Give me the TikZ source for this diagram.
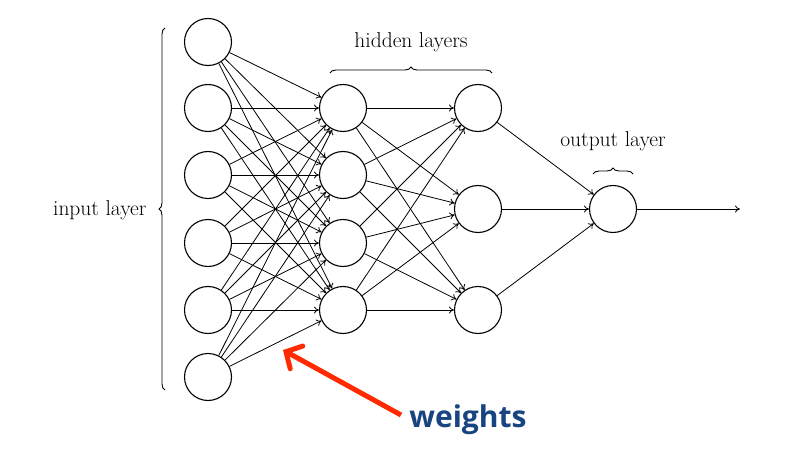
\documentclass[tikz,border=0pt]{standalone}
\usepackage{fontspec}
\newfontfamily\labelsans{Open Sans}
\usetikzlibrary{arrows.meta,decorations.pathreplacing}
\definecolor{pointerred}{RGB}{255,42,0}
\definecolor{weightblue}{RGB}{24,68,128}
\begin{document}
\begin{tikzpicture}[x=1pt,y=-1pt,
  neuron/.style={circle,draw,line width=1.1pt,minimum size=47pt,inner sep=0pt},
  synapse/.style={-{To[length=5pt,width=7pt]},line width=0.8pt},
  layerbrace/.style={decorate,decoration={brace,amplitude=6pt},line width=0.9pt},
  layertext/.style={font=\fontsize{21.5}{24}\selectfont}]
\useasboundingbox (0,0) rectangle (800,457);

% input layer
\foreach \i/\y in {1/42,2/108,3/175,4/243,5/310,6/377}
  \node[neuron] (I\i) at (208,\y) {};
% first hidden layer
\foreach \i/\y in {1/108,2/175,3/243,4/310}
  \node[neuron] (H\i) at (343,\y) {};
% second hidden layer
\foreach \i/\y in {1/108,2/209,3/310}
  \node[neuron] (G\i) at (478,\y) {};
% output neuron
\node[neuron] (O) at (613,209) {};
\coordinate (out) at (740,209);

% connections
\foreach \i in {1,...,6}
  \foreach \j in {1,...,4}
    \draw[synapse] (I\i) -- (H\j);
\foreach \i in {1,...,4}
  \foreach \j in {1,...,3}
    \draw[synapse] (H\i) -- (G\j);
\foreach \i in {1,...,3}
  \draw[synapse] (G\i) -- (O);
\draw[synapse] (O) -- (out);

% layer braces and labels
\coordinate (ib1) at (165,390);
\coordinate (ib2) at (165,28);
\draw[layerbrace] (ib1) -- (ib2);
\node[layertext,anchor=east] (inlab) at (150,210) {input layer};

\coordinate (hb1) at (330,73);
\coordinate (hb2) at (492,73);
\draw[layerbrace] (hb1) -- (hb2);
\node[layertext] (hidlab) at (411,42) {hidden layers};

\coordinate (ob1) at (593,174);
\coordinate (ob2) at (633,174);
\draw[layerbrace] (ob1) -- (ob2);
\node[layertext] (outlab) at (613,141) {output layer};

% pointer to the weights
\node[font=\labelsans\bfseries\fontsize{30}{34}\selectfont,text=weightblue,inner sep=0pt]
  (wlab) at (468,420) {weights};
\coordinate (wtip) at (283,350);
\draw[pointerred,line width=5pt,-{Straight Barb[length=12pt,width=26pt,line cap=round]}]
  (401,415) -- (wtip);
\end{tikzpicture}
\end{document}
